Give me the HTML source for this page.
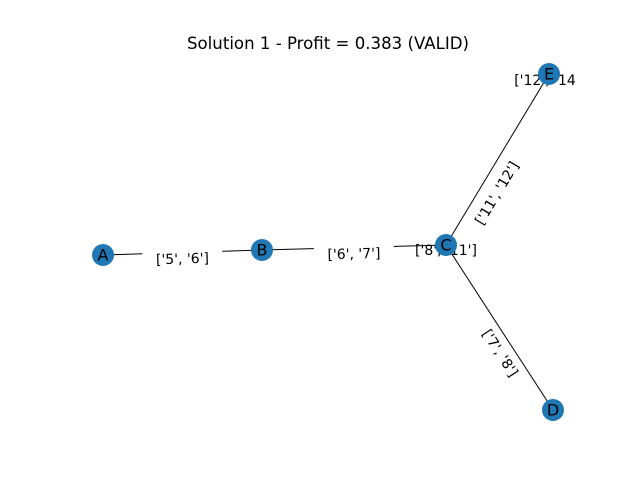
<!DOCTYPE html>
<html><head><meta charset="utf-8"><style>
body{margin:0;background:#fff;}
svg{display:block;font-family:"DejaVu Sans","Liberation Sans",sans-serif;}
</style></head><body>
<svg id="chart" width="640" height="480">
<rect width="640" height="480" fill="#fff"/>
<text x="328" y="49" text-anchor="middle" font-size="16.6" fill="#000">Solution 1 - Profit = 0.383 (VALID)</text>
<g id="edges"></g><g id="elabels"></g><g id="nlabels2"></g><g id="nodes"></g>
</svg>
<script>
const nodeNames = ["A","B","C","D","E"];
const nodeX = [103,262,446,553,549];
const nodeY = [255,250,245,410,74];
const edgeFrom = ["A","B","C","C"];
const edgeTo = ["B","C","E","D"];
const edgeLabels = ["['5', '6']","['6', '7']","['11', '12']","['7', '8']"];
const edgeLabelDx = [0,0,0,0];
const edgeLabelDy = [7,7,34,26];
const nodeTagNames = ["C","E"];
const nodeTags = ["['8', '11']","['12', '14"];
const nodeTagDx = [0,-4];
const nodeTagDy = [6,7];
const NS="http://www.w3.org/2000/svg";
function px(n){return nodeX[nodeNames.indexOf(n)];}
function py(n){return nodeY[nodeNames.indexOf(n)];}
const eg=document.getElementById('edges'), lg=document.getElementById('elabels'), ng=document.getElementById('nodes'), tg=document.getElementById('nlabels2');
edgeFrom.forEach((f,i)=>{
  const t=edgeTo[i];
  const l=document.createElementNS(NS,'line');
  l.setAttribute('x1',px(f));l.setAttribute('y1',py(f));l.setAttribute('x2',px(t));l.setAttribute('y2',py(t));
  l.setAttribute('stroke','#000');l.setAttribute('stroke-width','1');
  
  
  eg.appendChild(l);
  let ang=Math.atan2(py(t)-py(f),px(t)-px(f))*180/Math.PI;
  if(ang>90)ang-=180; if(ang<-90)ang+=180;
  const cx=(px(f)+px(t))/2+edgeLabelDx[i], cy=(py(f)+py(t))/2+edgeLabelDy[i];
  const g=document.createElementNS(NS,'g');
  g.setAttribute('transform','translate('+cx+','+cy+') rotate('+ang+')');
  
  
  const tx=document.createElementNS(NS,'text');
  tx.setAttribute('text-anchor','middle');tx.setAttribute('dominant-baseline','central');tx.setAttribute('font-size','14');
  tx.textContent=edgeLabels[i];
  const w=edgeLabels[i].length*7.6+4;
  const r=document.createElementNS(NS,'rect');
  r.setAttribute('x',-w/2);r.setAttribute('y',-9);r.setAttribute('width',w);r.setAttribute('height',18);r.setAttribute('fill','#fff');
  g.appendChild(r);g.appendChild(tx);lg.appendChild(g);
});
nodeTagNames.forEach((n,i)=>{
  const tx=document.createElementNS(NS,'text');
  tx.setAttribute('x',px(n)+nodeTagDx[i]);tx.setAttribute('y',py(n)+nodeTagDy[i]);
  tx.setAttribute('text-anchor','middle');tx.setAttribute('dominant-baseline','central');tx.setAttribute('font-size','14');
  tx.textContent=nodeTags[i];
  
  
  tg.appendChild(tx);
});
nodeNames.forEach((n,i)=>{
  const c=document.createElementNS(NS,'circle');
  c.setAttribute('cx',nodeX[i]);c.setAttribute('cy',nodeY[i]);c.setAttribute('r','11');c.setAttribute('fill','#1f77b4');
  
  
  ng.appendChild(c);
  const t=document.createElementNS(NS,'text');
  t.setAttribute('x',nodeX[i]);t.setAttribute('y',nodeY[i]);t.setAttribute('text-anchor','middle');t.setAttribute('dominant-baseline','central');t.setAttribute('font-size','16');
  t.textContent=n;
  
  
  ng.appendChild(t);
});
</script>
</body></html>
